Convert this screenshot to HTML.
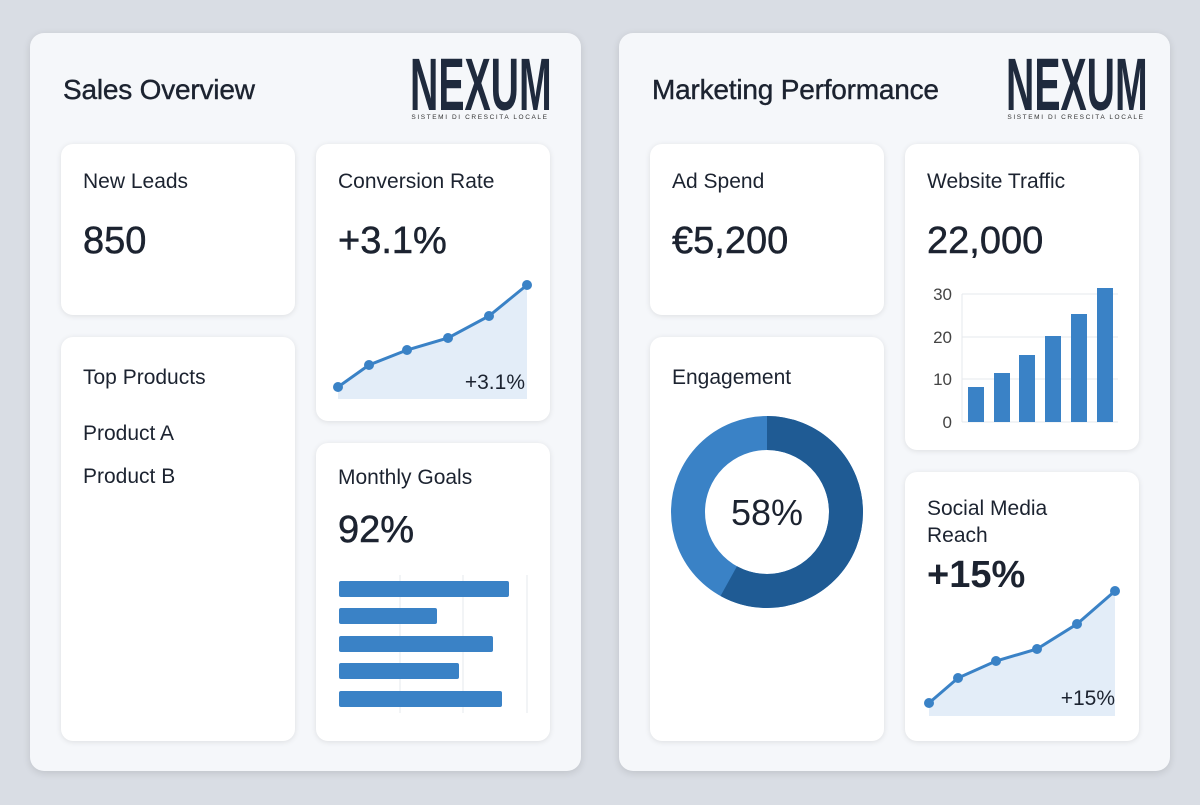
<!DOCTYPE html>
<html><head><style>
body{margin:0;width:1200px;height:805px;background:#d9dde4;font-family:"Liberation Sans",sans-serif;position:relative;overflow:hidden;color:#1c2330}
.panel{position:absolute;top:33px;width:551px;height:738px;background:#f5f7fa;border-radius:14px;box-shadow:0 2px 8px rgba(0,0,0,.12)}
.card{position:absolute;background:#fff;border-radius:12px;box-shadow:0 1px 6px rgba(0,0,0,.1)}
.t{position:absolute;font-size:28px;color:#1c2330;letter-spacing:-0.2px;-webkit-text-stroke:0.4px #1c2330}
.logo{position:absolute;width:140px;height:70px;white-space:nowrap}
.logo .n{position:absolute;left:0;top:-6px;font-weight:bold;font-size:74px;line-height:74px;color:#1f2a3d;transform:scaleX(.53);transform-origin:left top;display:inline-block}
.logo .s{position:absolute;left:0;width:140px;text-align:center;top:60px;font-size:6.5px;letter-spacing:1.6px;color:#333}
.lab{position:absolute;left:22px;font-size:21px;color:#1c2330}
.val{position:absolute;left:22px;font-size:38px;color:#1c2330;-webkit-text-stroke:0.5px #1c2330}
svg{position:absolute;left:0;top:0}
</style></head><body>
<div class="panel" style="left:30px"></div>
<div class="panel" style="left:619px"></div>
<div class="t" style="left:63px;top:74px">Sales Overview</div>
<div class="t" style="left:652px;top:74px">Marketing Performance</div>
<div class="logo" style="left:410px;top:54px"><span class="n">NEXUM</span><span class="s">SISTEMI DI CRESCITA LOCALE</span></div>
<div class="logo" style="left:1006px;top:54px"><span class="n">NEXUM</span><span class="s">SISTEMI DI CRESCITA LOCALE</span></div>

<div class="card" style="left:61px;top:144px;width:234px;height:171px"><div class="lab" style="top:26px">New Leads</div><div class="val" style="top:76px">850</div></div>
<div class="card" style="left:316px;top:144px;width:234px;height:277px"><div class="lab" style="top:26px">Conversion Rate</div><div class="val" style="top:76px">+3.1%</div></div>
<div class="card" style="left:61px;top:337px;width:234px;height:404px"><div class="lab" style="top:29px">Top Products</div><div class="lab" style="top:85px">Product A</div><div class="lab" style="top:128px">Product B</div></div>
<div class="card" style="left:316px;top:443px;width:234px;height:298px"><div class="lab" style="top:23px">Monthly Goals</div><div class="val" style="top:66px">92%</div></div>

<div class="card" style="left:650px;top:144px;width:234px;height:171px"><div class="lab" style="top:26px">Ad Spend</div><div class="val" style="top:76px">€5,200</div></div>
<div class="card" style="left:905px;top:144px;width:234px;height:306px"><div class="lab" style="top:26px">Website Traffic</div><div class="val" style="top:76px">22,000</div></div>
<div class="card" style="left:650px;top:337px;width:234px;height:404px"><div class="lab" style="top:29px">Engagement</div></div>
<div class="card" style="left:905px;top:472px;width:234px;height:269px"><div class="lab" style="top:23px;line-height:27px">Social Media<br>Reach</div><div class="val" style="top:82px;font-weight:bold;-webkit-text-stroke:0">+15%</div></div>

<svg width="1200" height="805">
<polygon points="338,387 369,365 407,350 448,338 489,316 527,285 527,399 338,399" fill="#e3edf8"/>
<polyline points="338,387 369,365 407,350 448,338 489,316 527,285" fill="none" stroke="#3a82c6" stroke-width="3"/>
<g fill="#3a82c6"><circle cx="338" cy="387" r="5"/><circle cx="369" cy="365" r="5"/><circle cx="407" cy="350" r="5"/><circle cx="448" cy="338" r="5"/><circle cx="489" cy="316" r="5"/><circle cx="527" cy="285" r="5"/></g>
<text x="525" y="389" text-anchor="end" font-size="21" fill="#1c2330" font-family="Liberation Sans">+3.1%</text>
<g stroke="#e6e8ec" stroke-width="1"><line x1="400" y1="575" x2="400" y2="713"/><line x1="463" y1="575" x2="463" y2="713"/><line x1="527" y1="575" x2="527" y2="713"/></g>
<g fill="#3a82c6"><rect x="339" y="581" width="170" height="16" rx="2"/><rect x="339" y="608" width="98" height="16" rx="2"/><rect x="339" y="636" width="154" height="16" rx="2"/><rect x="339" y="663" width="120" height="16" rx="2"/><rect x="339" y="691" width="163" height="16" rx="2"/></g>
<g stroke="#e6e8ec"><line x1="962" y1="294" x2="1118" y2="294"/><line x1="962" y1="337" x2="1118" y2="337"/><line x1="962" y1="379" x2="1118" y2="379"/><line x1="962" y1="422" x2="1118" y2="422"/><line x1="962" y1="294" x2="962" y2="422"/></g>
<g font-size="17" fill="#444" text-anchor="end" font-family="Liberation Sans"><text x="952" y="300">30</text><text x="952" y="343">20</text><text x="952" y="385">10</text><text x="952" y="428">0</text></g>
<g fill="#3a82c6"><rect x="968" y="387" width="16" height="35"/><rect x="994" y="373" width="16" height="49"/><rect x="1019" y="355" width="16" height="67"/><rect x="1045" y="336" width="16" height="86"/><rect x="1071" y="314" width="16" height="108"/><rect x="1097" y="288" width="16" height="134"/></g>
<circle cx="767" cy="512" r="79" fill="none" stroke="#3a82c6" stroke-width="34"/>
<circle cx="767" cy="512" r="79" fill="none" stroke="#1f5b94" stroke-width="34" stroke-dasharray="288 500" transform="rotate(-90 767 512)"/>
<text x="767" y="525" text-anchor="middle" font-size="36" fill="#1c2330" font-family="Liberation Sans">58%</text>
<polygon points="929,703 958,678 996,661 1037,649 1077,624 1115,591 1115,716 929,716" fill="#e3edf8"/>
<polyline points="929,703 958,678 996,661 1037,649 1077,624 1115,591" fill="none" stroke="#3a82c6" stroke-width="3"/>
<g fill="#3a82c6"><circle cx="929" cy="703" r="5"/><circle cx="958" cy="678" r="5"/><circle cx="996" cy="661" r="5"/><circle cx="1037" cy="649" r="5"/><circle cx="1077" cy="624" r="5"/><circle cx="1115" cy="591" r="5"/></g>
<text x="1115" y="705" text-anchor="end" font-size="21" fill="#1c2330" font-family="Liberation Sans">+15%</text>
</svg>
</body></html>
